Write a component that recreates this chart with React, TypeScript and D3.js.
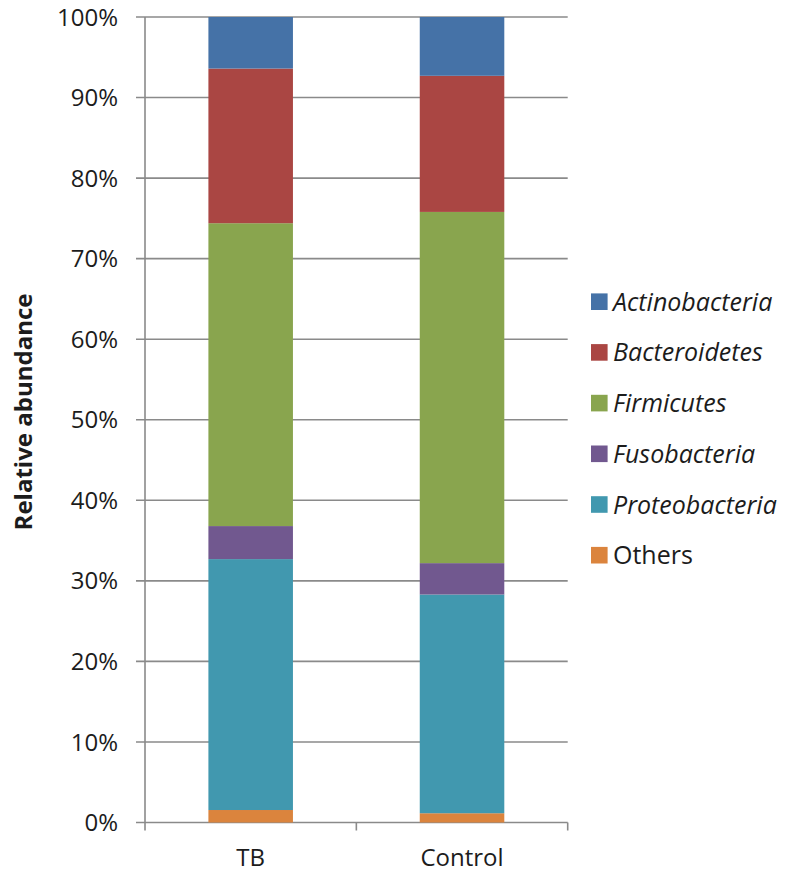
import React from "react";
import * as d3 from "d3";

const groups = ["TB", "Control"];
const phyla = ["Others", "Proteobacteria", "Fusobacteria", "Firmicutes", "Bacteroidetes", "Actinobacteria"];
const tbValues = [1.55, 31.15, 4.1, 37.6, 19.2, 6.4];
const controlValues = [1.15, 27.15, 3.9, 43.6, 16.9, 7.3];
const phylumColors = ["#DB843D", "#4198AF", "#71588F", "#89A54E", "#AA4643", "#4572A7"];
const legendOrder = ["Actinobacteria", "Bacteroidetes", "Firmicutes", "Fusobacteria", "Proteobacteria", "Others"];
const yTicks = [0, 10, 20, 30, 40, 50, 60, 70, 80, 90, 100];

const W = 788, H = 875;
const plotLeft = 145, plotRight = 567.7, plotTop = 17, plotBottom = 822.5;
const FONT = "'Open Sans', 'DejaVu Sans', sans-serif";
const GRID = "#8a8a8a";
const TEXT = "#1c1c1c";

export default function App() {
  const rows = groups.map((g, i) => {
    const vals = i === 0 ? tbValues : controlValues;
    const r: Record<string, any> = { group: g };
    phyla.forEach((p, j) => (r[p] = vals[j]));
    return r;
  });
  const series = d3.stack<any>().keys(phyla)(rows);
  const x = d3.scaleBand().domain(groups).range([plotLeft, plotRight]).paddingInner(0.6).paddingOuter(0.3);
  const y = d3.scaleLinear().domain([0, 100]).range([plotBottom, plotTop]);
  const color = d3.scaleOrdinal<string, string>().domain(phyla).range(phylumColors);
  const step = (plotRight - plotLeft) / groups.length;
  const catEdges = d3.range(groups.length + 1).map((i) => plotLeft + i * step);

  return (
    <svg width={W} height={H} style={{ position: "absolute", left: 0, top: 0, background: "#fff" }}>
      {/* gridlines */}
      {yTicks.map((t) => (
        <line key={"g" + t} x1={plotLeft - 9} x2={plotRight} y1={y(t)} y2={y(t)} stroke={GRID} strokeWidth={1.6} />
      ))}
      {/* y axis */}
      <line x1={plotLeft} x2={plotLeft} y1={plotTop} y2={plotBottom + 8} stroke={GRID} strokeWidth={1.6} />
      {catEdges.slice(1).map((cx, i) => (
        <line key={"xt" + i} x1={cx} x2={cx} y1={plotBottom} y2={plotBottom + 8} stroke={GRID} strokeWidth={1.6} />
      ))}
      {/* bars */}
      {series.map((s) => (
        <g key={s.key} fill={color(s.key)}>
          {s.map((d, i) => (
            <rect key={i} x={x(groups[i])} width={x.bandwidth()} y={y(d[1])} height={y(d[0]) - y(d[1])} />
          ))}
        </g>
      ))}
      {/* y tick labels */}
      {yTicks.map((t) => (
        <text key={"l" + t} x={118} y={y(t)} dy="0.36em" textAnchor="end" fontFamily={FONT} fontSize={24} fill={TEXT}>
          {t + "%"}
        </text>
      ))}
      {/* x labels */}
      {groups.map((g) => (
        <text key={g} x={(x(g) as number) + x.bandwidth() / 2} y={866} textAnchor="middle" fontFamily={FONT} fontSize={24} fill={TEXT}>
          {g}
        </text>
      ))}
      {/* y axis title */}
      <text transform="translate(32,412) rotate(-90)" textAnchor="middle" fontFamily={FONT} fontSize={24} fontWeight="bold" fill={TEXT}>
        Relative abundance
      </text>
      {/* legend */}
      {legendOrder.map((p, i) => {
        const cy = 301.7 + i * 50.7;
        return (
          <g key={p}>
            <rect x={591} y={cy - 8.3} width={16.6} height={16.6} fill={color(p)} />
            <text x={613} y={cy} dy="0.36em" fontFamily={FONT} fontSize={25} fontStyle={p === "Others" ? "normal" : "italic"} fill={TEXT}>
              {p}
            </text>
          </g>
        );
      })}
    </svg>
  );
}
